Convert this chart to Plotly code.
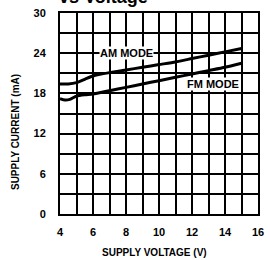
import plotly.graph_objects as go

am_v = [4, 4.5, 5, 5.5, 6, 7, 8, 9, 10, 11, 12, 13, 14, 15]
am_i = [19.4, 19.4, 19.6, 20.1, 20.6, 21.1, 21.5, 21.9, 22.3, 22.7, 23.2, 23.7, 24.2, 24.7]
fm_v = [4, 4.3, 4.6, 5, 5.5, 6, 7, 8, 9, 10, 11, 12, 13, 14, 15]
fm_i = [17.2, 17.0, 17.1, 17.6, 17.8, 17.9, 18.4, 18.9, 19.4, 19.9, 20.4, 20.9, 21.4, 21.9, 22.5]

x_ticks = [4, 6, 8, 10, 12, 14, 16]
y_ticks = [0, 6, 12, 18, 24, 30]

FONT = "Liberation Sans, Arial, sans-serif"

fig = go.Figure()
fig.add_trace(go.Scatter(x=am_v, y=am_i, mode="lines", line=dict(color="black", width=3, shape="spline", smoothing=0.6), showlegend=False))
fig.add_trace(go.Scatter(x=fm_v, y=fm_i, mode="lines", line=dict(color="black", width=3, shape="spline", smoothing=0.6), showlegend=False))

fig.update_layout(
    width=270, height=260,
    margin=dict(l=60, r=6, t=13, b=46),
    paper_bgcolor="white", plot_bgcolor="white",
    font=dict(family=FONT, color="black", size=11),
    xaxis=dict(range=[4, 16], tickvals=x_ticks, ticktext=[str(v) for v in x_ticks],
               showgrid=False, zeroline=False, showline=True, linecolor="black", linewidth=2, mirror=True,
               ticks="", ticklabelstandoff=7, ticklabeloverflow="allow",
               tickfont=dict(family=FONT, size=11, color="black", weight="bold"),
               minor=dict(dtick=1, showgrid=True, gridcolor="black", gridwidth=1.5)),
    yaxis=dict(range=[0, 30], tickvals=y_ticks, ticktext=[str(v) for v in y_ticks],
               showgrid=False, zeroline=False, showline=True, linecolor="black", linewidth=2, mirror=True,
               ticks="", ticklabelstandoff=10, tickfont=dict(family=FONT, size=11, color="black", weight="bold"),
               minor=dict(dtick=3, showgrid=True, gridcolor="black", gridwidth=1.5)),
    annotations=[
        dict(x=8.0, y=24, text="<b>AM MODE</b>", showarrow=False, bgcolor="white", font=dict(family=FONT, size=11),
             borderpad=0, xanchor="center", yanchor="middle"),
        dict(x=13.3, y=19.4, text="<b>FM MODE</b>", showarrow=False, bgcolor="white", font=dict(family=FONT, size=11),
             borderpad=0, xanchor="center", yanchor="middle"),
        dict(x=0.22, y=1.02, xref="paper", yref="paper", text="<b>vs Voltage</b>", showarrow=False,
             font=dict(family=FONT, size=18), xanchor="center", yanchor="bottom"),
        dict(x=-0.225, y=0.41, xref="paper", yref="paper", text="<b>SUPPLY CURRENT (mA)</b>", showarrow=False,
             textangle=-90, font=dict(family=FONT, size=10), xanchor="center", yanchor="middle"),
        dict(x=0.475, y=-0.19, xref="paper", yref="paper", text="<b>SUPPLY VOLTAGE (V)</b>", showarrow=False,
             font=dict(family=FONT, size=10), xanchor="center", yanchor="middle"),
    ],
)
fig.write_html("out.html", config={"displayModeBar": False}, post_script="document.body.style.margin='0';")
